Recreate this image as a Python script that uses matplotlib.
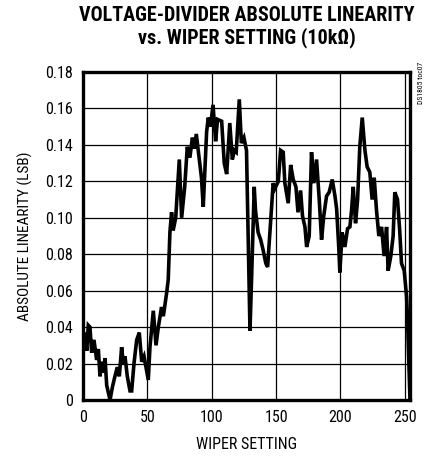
import matplotlib
matplotlib.use("Agg")
import matplotlib.pyplot as plt

plt.rcParams['font.family'] = ['Roboto Condensed', 'DejaVu Sans Condensed', 'Liberation Sans Narrow',
                               'Roboto', 'DejaVu Sans']

# wiper setting vs absolute linearity
wiper = [0, 1.5, 2.9, 4.1, 5.4, 6.7, 8.5, 10.6, 11.9, 13.2, 14.5, 15.8, 17.1, 18.4,
         21, 22.8, 24.8, 26.6, 28.2, 30, 31.3, 32.6, 34.4, 36.5, 37.8, 39.6, 41.7,
         43.7, 45.6, 47.4, 48.9, 50.7, 52, 54.6, 56.7, 58.5, 61, 62.4, 65, 66.2,
         67.5, 68.8, 70, 72, 74.8, 76.6, 79, 81, 83, 85, 86.5, 88, 92, 93.4, 96,
         97.3, 99, 101, 103, 104.5, 107.7, 109.7, 111.6, 114, 116, 117.5, 119,
         121.4, 123, 125, 127, 128.3, 129.7, 131, 133, 134, 136, 138, 140, 142,
         143.4, 145, 146.5, 147.7, 149, 151.7, 153.5, 155.5, 156.8, 159.4, 161.3,
         163.3, 165.4, 167, 169, 170.5, 172.4, 173.7, 175.7, 177.5, 179.3, 181.4,
         183.5, 185.3, 187, 189.2, 191.2, 193.6, 195.7, 197, 198.8, 199.5, 201.3,
         203.4, 205.5, 207.3, 208.6, 209.9, 211.7, 213.3, 215, 216.9, 219, 220.7,
         222.8, 224.6, 226.2, 228, 229.8, 231.9, 233.9, 235.8, 237, 239.1, 240.9,
         242.2, 244.3, 246, 247.4, 249.5, 251.3, 252, 254]
linearity = [0.030, 0.037, 0.027, 0.041, 0.040, 0.026, 0.033, 0.022, 0.028, 0.013,
             0.021, 0.015, 0.023, 0.008, 0.000, 0.007, 0.013, 0.018, 0.013, 0.029,
             0.020, 0.024, 0.013, 0.005, 0.005, 0.020, 0.033, 0.037, 0.021, 0.024,
             0.018, 0.011, 0.029, 0.049, 0.030, 0.040, 0.051, 0.046, 0.059, 0.066,
             0.092, 0.103, 0.093, 0.100, 0.132, 0.100, 0.117, 0.139, 0.133, 0.144,
             0.138, 0.146, 0.122, 0.106, 0.147, 0.155, 0.150, 0.162, 0.142, 0.154,
             0.153, 0.130, 0.124, 0.152, 0.132, 0.137, 0.136, 0.165, 0.141, 0.144,
             0.137, 0.090, 0.038, 0.068, 0.117, 0.104, 0.092, 0.088, 0.082, 0.075,
             0.073, 0.090, 0.106, 0.119, 0.116, 0.120, 0.137, 0.136, 0.119, 0.108,
             0.129, 0.121, 0.117, 0.103, 0.115, 0.101, 0.095, 0.084, 0.090, 0.136,
             0.119, 0.132, 0.110, 0.088, 0.101, 0.112, 0.114, 0.121, 0.112, 0.105,
             0.082, 0.070, 0.092, 0.084, 0.094, 0.095, 0.104, 0.117, 0.097, 0.110,
             0.139, 0.155, 0.137, 0.128, 0.125, 0.110, 0.122, 0.104, 0.090, 0.095,
             0.079, 0.095, 0.071, 0.079, 0.090, 0.114, 0.110, 0.093, 0.075, 0.071,
             0.057, 0.046, 0.000]

x_ticks = [0, 50, 100, 150, 200, 250]
y_ticks = [0, 0.02, 0.04, 0.06, 0.08, 0.10, 0.12, 0.14, 0.16, 0.18]
y_labels = ["0", "0.02", "0.04", "0.06", "0.08", "0.10", "0.12", "0.14", "0.16", "0.18"]

fig = plt.figure(figsize=(4.29, 4.59), dpi=100)
ax = fig.add_axes([0.1935, 0.1285, 0.7622, 0.7146])

ax.plot(wiper, linearity, color="black", lw=2.6, solid_joinstyle="miter")

ax.set_xlim(0, 254)
ax.set_ylim(0, 0.18)
ax.set_xticks(x_ticks)
ax.set_yticks(y_ticks)
ax.set_yticklabels(y_labels)
ax.tick_params(length=0, labelsize=11.5, pad=7)
ax.grid(True, color="black", lw=0.9)
for s in ax.spines.values():
    s.set_linewidth(2.4)

ax.set_xlabel("WIPER SETTING", fontsize=11.5, labelpad=9)
ax.set_ylabel("ABSOLUTE LINEARITY (LSB)", fontsize=11, labelpad=9)

fig.text(0.575, 0.988, "VOLTAGE-DIVIDER ABSOLUTE LINEARITY\nvs. WIPER SETTING (10k\u03a9)",
         ha="center", va="top", fontsize=14.5, fontweight="heavy", linespacing=1.15)
fig.text(0.982, 0.866, "DS1805 toc07", rotation=90, ha="center", va="top", fontsize=5.5)

plt.savefig("out.png", dpi=100)
plt.close()
